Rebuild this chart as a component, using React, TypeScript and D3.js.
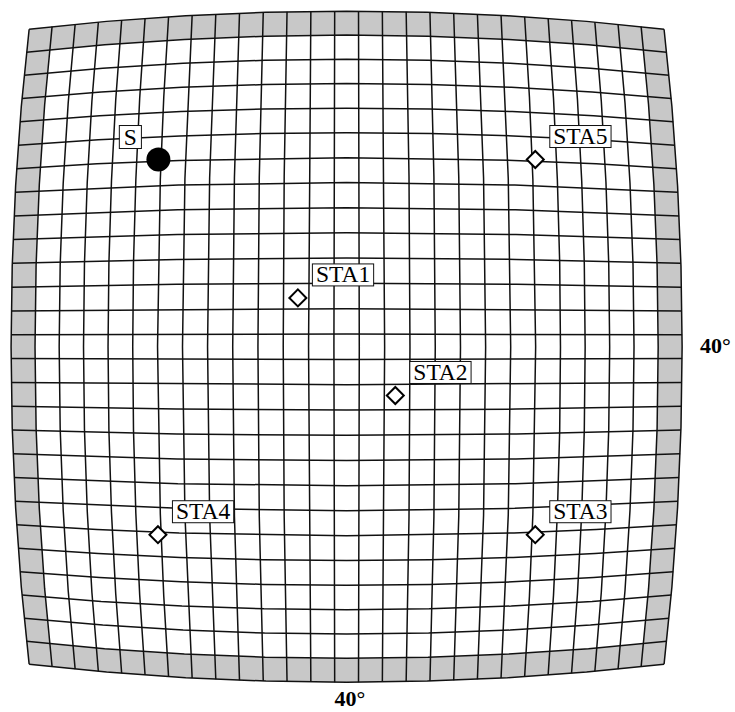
import React, { useMemo } from "react";
import * as d3 from "d3";

// ---- Data (chunk: 40° x 40°, 27 x 27 elements) ----
const chunkWidthDeg = [40];
const elementCount = [27];
const stationNames = ["STA1", "STA2", "STA3", "STA4", "STA5"];
const stationLon = [-2.85, 2.85, 11.3, -11.3, 11.3];
const stationLat = [2.85, -2.85, -11.05, -11.05, 11.0];
const sourceNames = ["S"];
const sourceLon = [-11.27];
const sourceLat = [11.0];
const axisLabels = ["40°", "40°"];

const W = 735;
const H = 712;
const FONT = "'Liberation Serif', 'Times New Roman', serif";
const FS = 23.5;

function measure(text: string, font: string): number {
  const c = document.createElement("canvas").getContext("2d");
  if (!c) return text.length * FS * 0.6;
  c.font = font;
  return c.measureText(text).width;
}

export default function App() {
  const half = chunkWidthDeg[0] / 2;
  const n = elementCount[0];
  const step = chunkWidthDeg[0] / n;
  const rad = Math.PI / 180;

  const projection = useMemo(
    () =>
      d3
        .geoOrthographic()
        .rotate([0, 0])
        .scale(981)
        .translate([346.6, 346.7])
        .clipAngle(90),
    []
  );
  const geoPath = d3.geoPath(projection);

  // cube-sphere (equiangular) coordinates -> lon/lat
  const gp = (xi: number, eta: number): [number, number] => [
    xi,
    Math.atan(Math.tan(eta * rad) * Math.cos(xi * rad)) / rad,
  ];

  const ringPath = (a: number, b: number) => {
    const pts: [number, number][] = [];
    const S = 60;
    for (let k = 0; k <= S; k++) pts.push(gp(a + ((b - a) * k) / S, b));
    for (let k = 0; k <= S; k++) pts.push(gp(b, b - ((b - a) * k) / S));
    for (let k = 0; k <= S; k++) pts.push(gp(b - ((b - a) * k) / S, a));
    for (let k = 0; k <= S; k++) pts.push(gp(a, a + ((b - a) * k) / S));
    const proj = pts.map((p) => projection(p) as [number, number]);
    return (d3.line()(proj) || "") + "Z";
  };

  const gridLines: string[] = [];
  for (let i = 0; i <= n; i++) {
    const v = -half + i * step;
    gridLines.push(
      geoPath({ type: "LineString", coordinates: [gp(v, -half), gp(v, half)] } as any) || ""
    );
    gridLines.push(
      geoPath({ type: "LineString", coordinates: [gp(-half, v), gp(half, v)] } as any) || ""
    );
  }

  const labelFont = `${FS}px ${FONT}`;
  const diamond = d3.symbol(d3.symbolSquare, 144)() || "";

  const stations = stationNames.map((name, i) => {
    const [x, y] = projection([stationLon[i], stationLat[i]]) as [number, number];
    return { name, x, y, w: measure(name, labelFont) };
  });
  const sources = sourceNames.map((name, i) => {
    const [x, y] = projection([sourceLon[i], sourceLat[i]]) as [number, number];
    return { name, x, y, w: measure(name, labelFont) };
  });

  const pad = 3.5;
  const boxH = 22;

  return (
    <svg
      width={W}
      height={H}
      viewBox={`0 0 ${W} ${H}`}
      style={{ position: "absolute", left: 0, top: 0, display: "block", background: "#fff" }}
    >
      <path d={ringPath(-half, half)} fill="#c8c8c8" />
      <path d={ringPath(-half + step, half - step)} fill="#ffffff" />
      {gridLines.map((d, i) => (
        <path key={i} d={d} fill="none" stroke="#111" strokeWidth={1.5} />
      ))}

      {sources.map((s) => (
        <g key={s.name}>
          <circle cx={s.x} cy={s.y} r={12} fill="#000" />
          <rect
            x={s.x - 17 - (s.w + 2 * pad + 2)}
            y={s.y - 11 - boxH - 1}
            width={s.w + 2 * pad + 2}
            height={boxH + 1}
            fill="#fff"
            stroke="#111"
            strokeWidth={1}
          />
          <text
            x={s.x - 17 - (s.w + 2 * pad + 2) / 2}
            y={s.y - 11 - 3.5}
            textAnchor="middle"
            fontFamily={FONT}
            fontSize={FS}
            fill="#000"
          >
            {s.name}
          </text>
        </g>
      ))}

      {stations.map((s) => (
        <g key={s.name}>
          <path
            d={diamond}
            transform={`translate(${s.x},${s.y}) rotate(45)`}
            fill="#fff"
            stroke="#000"
            strokeWidth={2}
          />
          <rect
            x={s.x + 14.5}
            y={s.y - 12 - boxH}
            width={s.w + 2 * pad}
            height={boxH}
            fill="#fff"
            stroke="#111"
            strokeWidth={1}
          />
          <text
            x={s.x + 14.5 + pad + s.w / 2}
            y={s.y - 12 - 3.5}
            textAnchor="middle"
            fontFamily={FONT}
            fontSize={FS}
            fill="#000"
          >
            {s.name}
          </text>
        </g>
      ))}

      <text
        x={350}
        y={706}
        textAnchor="middle"
        fontFamily={FONT}
        fontWeight="bold"
        fontSize={22}
        fill="#000"
      >
        {axisLabels[0]}
      </text>
      <text
        x={700}
        y={352.5}
        textAnchor="start"
        fontFamily={FONT}
        fontWeight="bold"
        fontSize={22}
        fill="#000"
      >
        {axisLabels[1]}
      </text>
    </svg>
  );
}
